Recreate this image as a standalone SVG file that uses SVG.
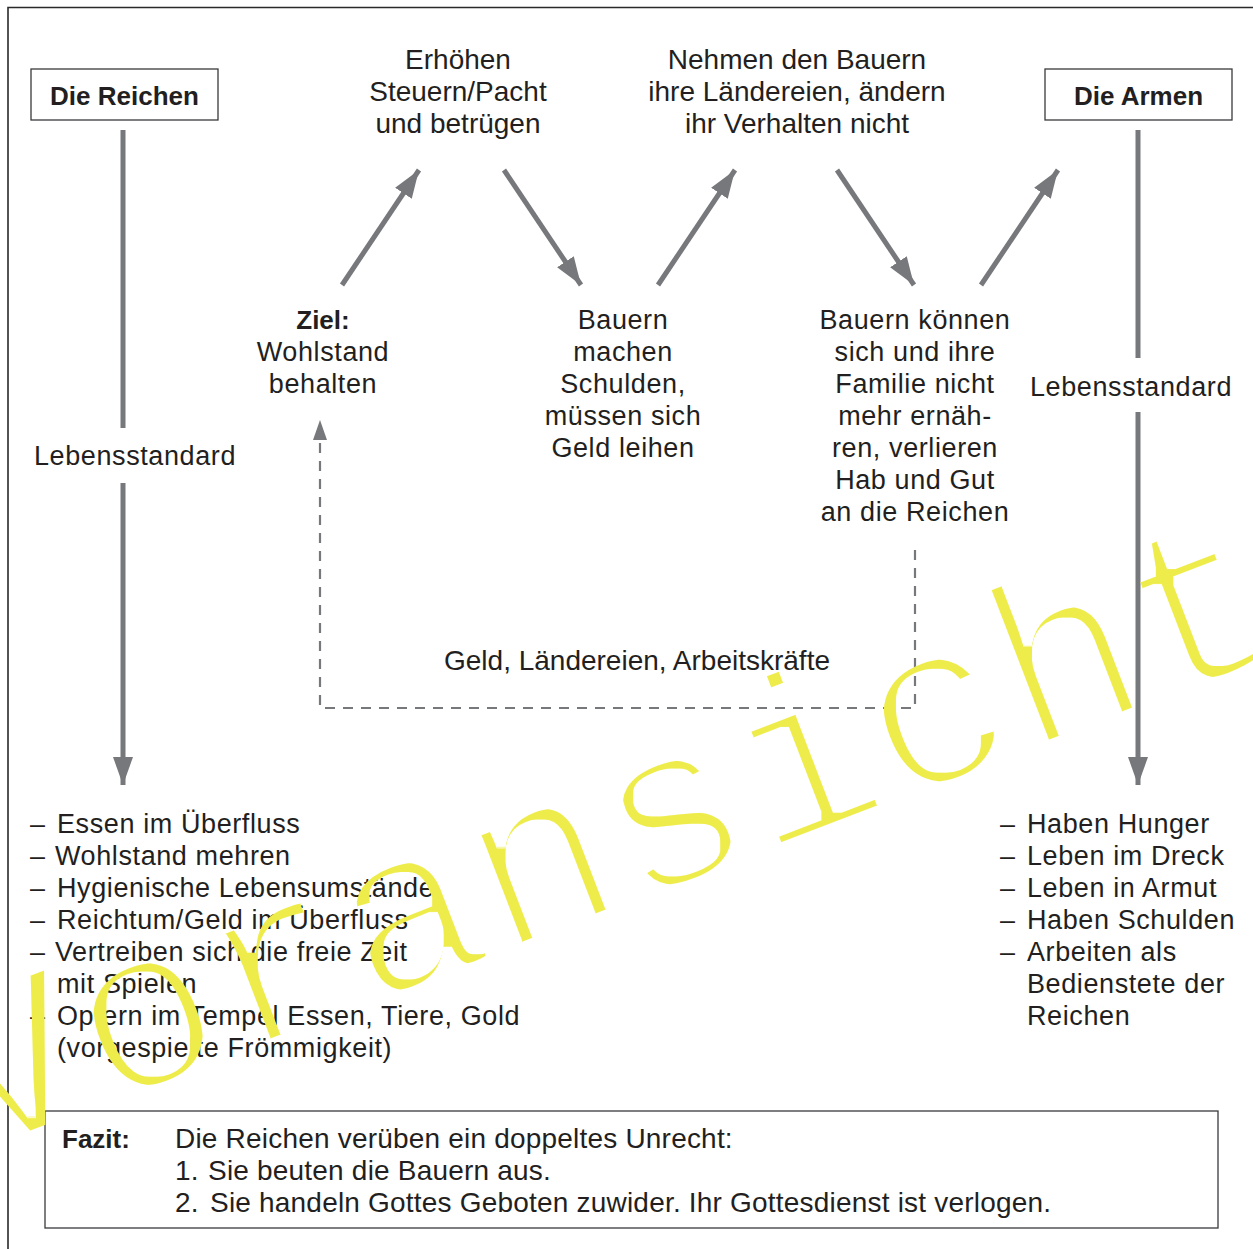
<svg xmlns="http://www.w3.org/2000/svg" width="1253" height="1249" viewBox="0 0 1253 1249">
<defs>
<style>
text{font-family:"Liberation Sans",Arial,sans-serif;fill:#231f20}
.t{font-size:27px;letter-spacing:0.6px}
.c{font-size:28px;text-anchor:middle}
.m{text-anchor:middle}
.b{font-weight:bold;font-size:26px;letter-spacing:0}
.box{fill:#fff;stroke:#3a3a3c;stroke-width:1.3}
.ar{stroke:#77787b;stroke-width:5;fill:none}
.da{stroke:#77787b;stroke-width:2.2;fill:none;stroke-dasharray:10 8}
.f{font-size:28px;letter-spacing:0.2px}
.wm{font-family:"Liberation Mono","Courier New",monospace;font-size:235px;fill:#eeec4c}
</style>
<filter id="thin" x="-5%" y="-20%" width="110%" height="140%">
<feMorphology operator="erode" radius="3.5"/>
</filter>
<marker id="ah" markerUnits="userSpaceOnUse" markerWidth="30" markerHeight="22" refX="28" refY="10" orient="auto">
<path d="M0,0 L28,10 L0,20 Z" fill="#77787b"/>
</marker>
</defs>
<rect width="1253" height="1249" fill="#fff"/>
<path d="M8,1249 V7.5 H1253" fill="none" stroke="#2a2a2a" stroke-width="1.6"/>

<g id="connectors">
<line class="ar" x1="123" y1="130" x2="123" y2="428"/>
<line class="ar" x1="123" y1="483" x2="123" y2="785" marker-end="url(#ah)"/>
<line class="ar" x1="1138" y1="130" x2="1138" y2="358"/>
<line class="ar" x1="1138" y1="412" x2="1138" y2="785" marker-end="url(#ah)"/>
<line class="ar" x1="342" y1="285" x2="419" y2="170" marker-end="url(#ah)"/>
<line class="ar" x1="504" y1="170" x2="581" y2="285" marker-end="url(#ah)"/>
<line class="ar" x1="658" y1="285" x2="735" y2="170" marker-end="url(#ah)"/>
<line class="ar" x1="837" y1="170" x2="914" y2="285" marker-end="url(#ah)"/>
<line class="ar" x1="981" y1="285" x2="1058" y2="170" marker-end="url(#ah)"/>
<path class="da" d="M915,550 V708 H320 V440"/>
<path d="M313,440 L320,420 L327,440 Z" fill="#77787b"/>
</g>

<g id="reichen">
<rect class="box" x="31" y="69" width="187" height="51"/>
<text class="b m" x="124.5" y="105">Die Reichen</text>
</g>
<g id="armen">
<rect class="box" x="1045" y="69" width="187" height="51"/>
<text class="b m" x="1138.5" y="105">Die Armen</text>
</g>
<g id="lebensstandard-links">
<text class="t m" x="135" y="465">Lebensstandard</text>
</g>
<g id="lebensstandard-rechts">
<text class="t m" x="1131" y="396">Lebensstandard</text>
</g>
<g id="erhoehen">
<text class="c" x="458" y="69">Erhöhen</text>
<text class="c" x="458" y="101">Steuern/Pacht</text>
<text class="c" x="458" y="133">und betrügen</text>
</g>
<g id="nehmen">
<text class="c" x="797" y="69">Nehmen den Bauern</text>
<text class="c" x="797" y="101">ihre Ländereien, ändern</text>
<text class="c" x="797" y="133">ihr Verhalten nicht</text>
</g>
<g id="ziel">
<text class="m b" x="323" y="329">Ziel:</text>
<text class="t m" x="323" y="361">Wohlstand</text>
<text class="t m" x="323" y="393">behalten</text>
</g>
<g id="schulden">
<text class="t m" x="623" y="329">Bauern</text>
<text class="t m" x="623" y="361">machen</text>
<text class="t m" x="623" y="393">Schulden,</text>
<text class="t m" x="623" y="425">müssen sich</text>
<text class="t m" x="623" y="457">Geld leihen</text>
</g>
<g id="verlieren">
<text class="t m" x="915" y="329">Bauern können</text>
<text class="t m" x="915" y="361">sich und ihre</text>
<text class="t m" x="915" y="393">Familie nicht</text>
<text class="t m" x="915" y="425">mehr ernäh-</text>
<text class="t m" x="915" y="457">ren, verlieren</text>
<text class="t m" x="915" y="489">Hab und Gut</text>
<text class="t m" x="915" y="521">an die Reichen</text>
</g>
<g id="geld">
<text class="c" x="637" y="670">Geld, Ländereien, Arbeitskräfte</text>
</g>
<g id="liste-reichen">
<text class="t" x="30" y="833">–</text><text class="t" x="57" y="833">Essen im Überfluss</text>
<text class="t" x="30" y="865">–</text><text class="t" x="55" y="865">Wohlstand mehren</text>
<text class="t" x="30" y="897">–</text><text class="t" x="57" y="897">Hygienische Lebensumstände</text>
<text class="t" x="30" y="929">–</text><text class="t" x="57" y="929">Reichtum/Geld im Überfluss</text>
<text class="t" x="30" y="961">–</text><text class="t" x="55" y="961">Vertreiben sich die freie Zeit</text>
<text class="t" x="57" y="993">mit Spielen</text>
<text class="t" x="30" y="1025">–</text><text class="t" x="57" y="1025">Opfern im Tempel Essen, Tiere, Gold</text>
<text class="t" x="57" y="1057">(vorgespielte Frömmigkeit)</text>
</g>
<g id="liste-armen">
<text class="t" x="1000" y="833">–</text><text class="t" x="1027" y="833">Haben Hunger</text>
<text class="t" x="1000" y="865">–</text><text class="t" x="1027" y="865">Leben im Dreck</text>
<text class="t" x="1000" y="897">–</text><text class="t" x="1027" y="897">Leben in Armut</text>
<text class="t" x="1000" y="929">–</text><text class="t" x="1027" y="929">Haben Schulden</text>
<text class="t" x="1000" y="961">–</text><text class="t" x="1027" y="961">Arbeiten als</text>
<text class="t" x="1027" y="993">Bedienstete der</text>
<text class="t" x="1027" y="1025">Reichen</text>
</g>
<g id="fazit">
<rect class="box" x="45" y="1111" width="1173" height="117"/>
<text class="b" x="62" y="1148">Fazit:</text>
<text class="f" x="175" y="1148">Die Reichen verüben ein doppeltes Unrecht:</text>
<text class="f" x="175" y="1180">1.</text><text class="f" x="208" y="1180">Sie beuten die Bauern aus.</text>
<text class="f" x="175" y="1212">2.</text><text class="f" x="210" y="1212">Sie handeln Gottes Geboten zuwider. Ihr Gottesdienst ist verlogen.</text>
</g>
<g filter="url(#thin)">
<text class="wm" x="-27" y="1158" transform="rotate(-21 -27 1158)">Voransicht</text>
</g>
</svg>
